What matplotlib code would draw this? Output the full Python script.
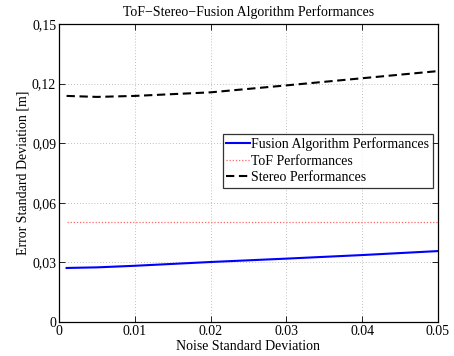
import matplotlib
matplotlib.use("Agg")
import matplotlib.pyplot as plt
from matplotlib.ticker import FixedLocator

noise = [0.001, 0.005, 0.01, 0.02, 0.03, 0.04, 0.05]
fusion = [0.0272, 0.0275, 0.0283, 0.0302, 0.0319, 0.0337, 0.0357]
tof = [0.0505, 0.0505, 0.0505, 0.0505, 0.0505, 0.0505, 0.0505]
stereo = [0.1138, 0.1133, 0.1138, 0.1156, 0.1191, 0.1227, 0.1263]

xticks = [0, 0.01, 0.02, 0.03, 0.04, 0.05]
xticklabels = ["0", "0.01", "0.02", "0.03", "0.04", "0.05"]
yticks = [0, 0.03, 0.06, 0.09, 0.12, 0.15]
yticklabels = ["0", "0,03", "0,06", "0,09", "0,12", "0,15"]

plt.rcParams['font.family'] = ['Liberation Serif', 'DejaVu Serif']
fs = 10

fig = plt.figure(figsize=(4.54, 3.56), dpi=100)
ax = fig.add_axes([59/454, 1-322/356, (438-59)/454, (322-24)/356])

ax.plot(noise, fusion, color='#0000ff', lw=1.5, label='Fusion Algorithm Performances')
ax.plot(noise, tof, color='#ff6666', lw=0.9, ls=(0, (1, 1.5)), label='ToF Performances')
ax.plot(noise, stereo, color='black', lw=1.5, ls=(0, (4, 2.2)), label='Stereo Performances')

ax.set_xlim(0, 0.05)
ax.set_ylim(0, 0.15)
ax.xaxis.set_major_locator(FixedLocator(xticks))
ax.set_xticklabels(xticklabels, fontsize=fs)
ax.yaxis.set_major_locator(FixedLocator(yticks))
ax.set_yticklabels(yticklabels, fontsize=fs)
ax.tick_params(direction='in', top=True, right=True, length=4, width=0.6, pad=2)
ax.grid(True, color='#aaaaaa', ls=(0, (1, 2.5)), lw=0.6)
for s in ax.spines.values():
    s.set_linewidth(0.9)

ax.set_title('ToF\u2212Stereo\u2212Fusion Algorithm Performances', fontsize=fs, pad=6)
ax.set_xlabel('Noise Standard Deviation', fontsize=fs, labelpad=1.5)
ax.set_ylabel('Error Standard Deviation [m]', fontsize=fs, labelpad=2)

leg = ax.legend(loc='upper left', bbox_to_anchor=((223-59)/(438-59), 1-(134-24)/(322-24)),
                fontsize=fs, frameon=True, fancybox=False, edgecolor='black',
                borderpad=0.25, labelspacing=0.25, handlelength=1.7, handletextpad=0.1,
                borderaxespad=0)
leg.get_frame().set_linewidth(0.9)

fig.savefig('out.png', dpi=100)
